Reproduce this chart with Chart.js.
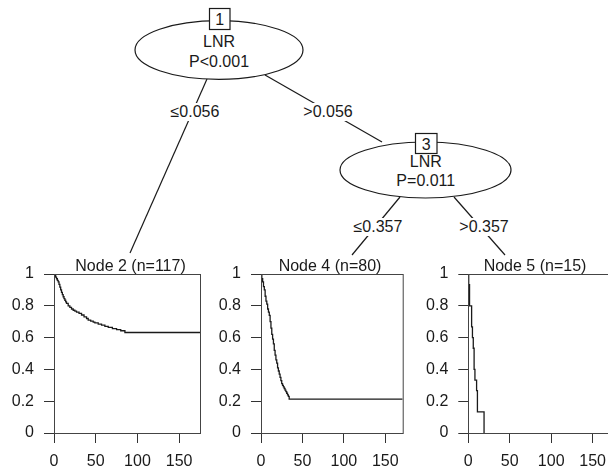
<!DOCTYPE html>
<html><head><meta charset="utf-8">
<script src="https://cdn.jsdelivr.net/npm/chart.js@4.4.1/dist/chart.umd.min.js"></script>
<style>
html,body{margin:0;padding:0;background:#fff;}
#wrap{position:relative;width:608px;height:474px;overflow:hidden;background:#fff;}
#tree{position:absolute;left:0;top:0;}
canvas{position:absolute;}
#tree text{font-family:"Liberation Sans",Arial,sans-serif;font-size:16px;fill:#1a1a1a;text-anchor:middle;}
</style></head><body>
<div id="wrap">
<svg id="tree" width="608" height="474" xmlns="http://www.w3.org/2000/svg">
  <g stroke="#1a1a1a" stroke-width="1.2" fill="none">
    <line x1="207" y1="79" x2="130" y2="253"/>
    <line x1="265" y1="75" x2="382" y2="142"/>
    <line x1="400" y1="197" x2="352" y2="255"/>
    <line x1="454" y1="197" x2="505" y2="255"/>
  </g>
  <ellipse cx="219" cy="50" rx="84" ry="29.3" fill="#fff" stroke="#1a1a1a" stroke-width="1.2"/>
  <rect x="209.5" y="8.5" width="20.5" height="21" fill="#fff" stroke="#1a1a1a" stroke-width="1.2"/>
  <text x="219.8" y="25">1</text>
  <text x="219" y="46.7">LNR</text>
  <text x="219" y="66.5">P&lt;0.001</text>
  <ellipse cx="425.5" cy="170" rx="85.5" ry="28" fill="#fff" stroke="#1a1a1a" stroke-width="1.2"/>
  <rect x="415.5" y="133.5" width="21.5" height="20" fill="#fff" stroke="#1a1a1a" stroke-width="1.2"/>
  <text x="426.2" y="149.5">3</text>
  <text x="425.8" y="166.5">LNR</text>
  <text x="425.8" y="186">P=0.011</text>
  <g fill="#fff" stroke="none">
    <rect x="167" y="103" width="56" height="18"/>
    <rect x="299" y="103" width="58" height="18"/>
    <rect x="351" y="218" width="54" height="18"/>
    <rect x="455" y="218" width="58" height="18"/>
  </g>
  <text x="195" y="117">≤0.056</text>
  <text x="328" y="117">&gt;0.056</text>
  <text x="378" y="232">≤0.357</text>
  <text x="484" y="232">&gt;0.357</text>
</svg>
<canvas id="c1" width="210" height="224" style="left:0;top:250px"></canvas>
<canvas id="c2" width="208" height="224" style="left:205px;top:250px"></canvas>
<canvas id="c3" width="215" height="224" style="left:410px;top:250px"></canvas>
</div>
<script>
// ---- data ----
const xTicks = [0, 50, 100, 150];
const yTicks = [0, 0.2, 0.4, 0.6, 0.8, 1];

const node2Title = 'Node 2 (n=117)';
const node2Time = [0,1,2,3,4,5,6,7,8,9,10,11,12,13,14,15,17,19,21,23,25,27,30,33,36,39,41,44,47,49,53,57,61,65,70,75,80,85,175];
const node2Surv = [1,0.99,0.98,0.97,0.96,0.95,0.935,0.918,0.9,0.885,0.87,0.857,0.845,0.835,0.825,0.815,0.80,0.79,0.78,0.772,0.766,0.76,0.752,0.742,0.73,0.72,0.71,0.703,0.697,0.692,0.685,0.678,0.671,0.664,0.657,0.65,0.643,0.632,0.632];

const node4Title = 'Node 4 (n=80)';
const node4Time = [0,1,2,3,4,5,6,7,8,9,10,11,12,13,14,15,16,17,18,19,20,21,22,23,24,25,26,27,28,29,30,31,32,33,34,171];
const node4Surv = [1,0.97,0.95,0.92,0.90,0.86,0.83,0.81,0.78,0.76,0.74,0.70,0.66,0.62,0.59,0.56,0.52,0.49,0.46,0.44,0.41,0.39,0.37,0.35,0.33,0.31,0.30,0.29,0.28,0.27,0.26,0.25,0.24,0.23,0.2125,0.2125];

const node5Title = 'Node 5 (n=15)';
const node5Time = [0,0.5,1.5,4,5,6,7,8,10,11,19];
const node5Surv = [1,0.933,0.8,0.667,0.6,0.533,0.4,0.333,0.267,0.133,0];

// ---- drawing ----
const FONT = {family: '"Liberation Sans", Arial, sans-serif', size: 16};
const INK = '#1a1a1a';

const boxPlugin = {
  id: 'nodeBox',
  afterDraw(chart, args, opts) {
    const a = chart.chartArea, ctx = chart.ctx;
    ctx.save();
    ctx.strokeStyle = '#444';
    ctx.lineWidth = 1;
    ctx.strokeRect(Math.round(a.left) + 0.5, Math.round(a.top) + 0.5, a.right - a.left, a.bottom - a.top);
    ctx.fillStyle = INK;
    ctx.font = FONT.size + 'px ' + FONT.family;
    ctx.textAlign = 'center';
    ctx.textBaseline = 'alphabetic';
    ctx.fillText(opts.text, opts.x, a.top - 3);
    ctx.restore();
  }
};

function km(id, times, surv, xMax, yWidth, padRight, title, titleX) {
  const data = times.map((t, i) => ({x: t, y: surv[i]}));
  return new Chart(document.getElementById(id), {
    type: 'line',
    data: {datasets: [{data, stepped: true, borderColor: INK, borderWidth: 1.3, pointRadius: 0, fill: false}]},
    options: {
      responsive: false, animation: false, events: [],
      layout: {padding: {top: 24, right: padRight, left: 0, bottom: 0}},
      plugins: {legend: {display: false}, tooltip: {enabled: false}, nodeBox: {text: title, x: titleX}},
      scales: {
        x: {
          type: 'linear', min: 0, max: xMax,
          afterBuildTicks: s => { s.ticks = xTicks.map(v => ({value: v})); },
          afterFit: s => { s.height = 41; },
          grid: {drawOnChartArea: false, drawTicks: true, tickLength: 10, tickColor: '#333'},
          border: {display: true, color: '#333', width: 1},
          ticks: {padding: 9, color: INK, font: FONT, maxRotation: 0, autoSkip: false, callback: v => String(v)}
        },
        y: {
          type: 'linear', min: 0, max: 1,
          afterBuildTicks: s => { s.ticks = yTicks.map(v => ({value: v})); },
          afterFit: s => { s.width = yWidth; },
          grid: {drawOnChartArea: false, drawTicks: true, tickLength: 10, tickColor: '#333'},
          border: {display: true, color: '#333', width: 1},
          ticks: {padding: 10, color: INK, font: FONT, autoSkip: false, callback: v => String(v)}
        }
      }
    },
    plugins: [boxPlugin]
  });
}

km('c1', node2Time, node2Surv, 175, 54, 10, node2Title, 130.5);
km('c2', node4Time, node4Surv, 171, 56, 10.3, node4Title, 125);
km('c3', node5Time, node5Surv, 175, 58.3, 11.6, node5Title, 125);
</script>
</body></html>
